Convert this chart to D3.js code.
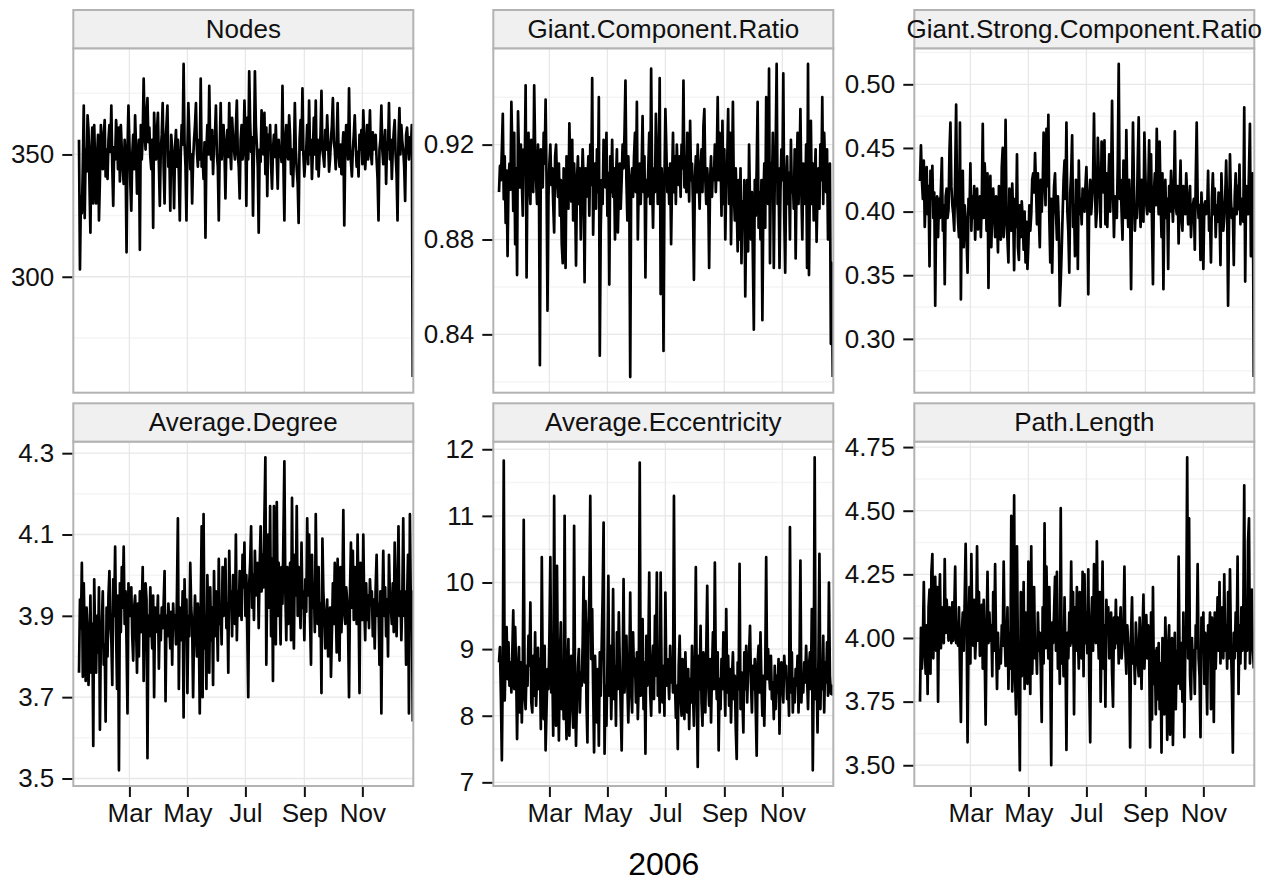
<!DOCTYPE html>
<html>
<head>
<meta charset="utf-8">
<script src="https://cdn.jsdelivr.net/npm/d3@7"></script>
<style>
  body { margin: 0; background: #fff; }
  text { font-family: "Liberation Sans", Arial, Helvetica, sans-serif; }
</style>
</head>
<body>
<svg id="chart" width="1285" height="884"></svg>
<script>
// daily series, 2006-01-07 .. 2006-12-24
const startDate = new Date(2006, 0, 7)

const nodes = [
  356,303,333,326,345,370,324,352,343,366, 360,338,318,352,361,330,362,345,330,349,
  358,323,340,362,350,344,358,364,341,352, 340,356,362,351,370,345,329,353,348,364,
  357,344,361,339,362,352,344,338,356,348, 310,352,370,355,338,327,350,358,344,366,
  353,334,347,356,311,362,348,357,381,361, 352,366,373,355,361,349,344,356,320,367,
  355,348,360,367,346,329,352,358,371,345, 330,356,362,370,345,351,327,358,352,349,
  328,353,360,345,356,342,323,350,362,354, 387,355,345,323,352,371,359,344,350,330,
  348,356,362,371,352,345,356,348,381,345, 349,340,355,316,352,362,350,378,353,348,
  360,342,355,358,370,350,345,323,352,371, 348,356,362,351,332,354,360,349,371,352,
  344,365,357,352,348,361,372,350,345,332, 356,362,348,352,372,358,329,365,348,384,
  363,351,357,325,352,384,362,354,345,318, 352,347,368,355,350,367,342,361,333,358,
  352,362,346,336,352,358,349,362,348,336, 356,349,352,347,378,345,323,356,362,350,
  348,366,358,342,352,337,348,371,352,344, 338,322,356,364,352,377,350,341,348,352,
  362,346,372,350,356,340,352,365,350,372, 344,356,341,350,358,376,352,349,345,360,
  352,366,355,343,348,356,362,373,355,352, 344,356,371,350,345,354,342,352,359,321,
  352,362,356,348,377,352,347,341,352,358, 366,354,345,351,341,358,352,360,346,368,
  356,344,352,362,348,355,368,350,346,359, 352,354,358,348,340,323,352,356,370,352,
  346,354,360,338,355,352,371,348,356,340, 352,359,364,350,342,323,356,369,350,362,
  355,352,345,331,358,361,354,348,357,352, 362,259
]

const giantComponent = [
  0.900,0.911,0.905,0.918,0.933,0.897,0.915,0.887,0.909,0.873, 0.905,0.912,0.901,0.938,0.918,0.892,0.925,0.878,0.910,0.865,
  0.934,0.915,0.902,0.920,0.905,0.890,0.918,0.908,0.945,0.864, 0.912,0.925,0.903,0.895,0.922,0.910,0.900,0.945,0.918,0.905,
  0.895,0.920,0.905,0.827,0.918,0.910,0.902,0.925,0.912,0.939, 0.905,0.850,0.898,0.912,0.920,0.903,0.910,0.895,0.883,0.915,
  0.920,0.905,0.898,0.912,0.890,0.905,0.878,0.870,0.910,0.900, 0.868,0.915,0.905,0.893,0.929,0.908,0.896,0.922,0.888,0.912,
  0.900,0.869,0.905,0.915,0.895,0.910,0.880,0.902,0.918,0.905, 0.862,0.910,0.898,0.905,0.915,0.890,0.920,0.903,0.948,0.882,
  0.905,0.912,0.893,0.918,0.900,0.940,0.831,0.885,0.905,0.895, 0.922,0.910,0.902,0.925,0.890,0.908,0.861,0.915,0.900,0.922,
  0.898,0.910,0.880,0.905,0.918,0.883,0.900,0.912,0.893,0.905, 0.920,0.910,0.925,0.947,0.905,0.888,0.915,0.900,0.822,0.905,
  0.910,0.898,0.915,0.925,0.900,0.938,0.880,0.905,0.912,0.895, 0.910,0.932,0.900,0.915,0.864,0.905,0.898,0.910,0.925,0.895,
  0.952,0.905,0.885,0.910,0.900,0.933,0.915,0.895,0.905,0.948, 0.857,0.910,0.900,0.833,0.905,0.935,0.918,0.900,0.910,0.895,
  0.912,0.878,0.905,0.925,0.900,0.915,0.895,0.920,0.908,0.903, 0.915,0.898,0.920,0.910,0.947,0.902,0.915,0.900,0.925,0.910,
  0.896,0.930,0.905,0.912,0.895,0.863,0.905,0.915,0.900,0.920, 0.905,0.893,0.910,0.918,0.900,0.928,0.935,0.905,0.895,0.910,
  0.902,0.868,0.905,0.915,0.898,0.910,0.905,0.920,0.900,0.912, 0.940,0.905,0.925,0.915,0.890,0.930,0.895,0.918,0.880,0.905,
  0.912,0.935,0.895,0.925,0.878,0.905,0.938,0.900,0.888,0.910, 0.895,0.875,0.905,0.880,0.910,0.870,0.896,0.885,0.905,0.856,
  0.890,0.905,0.875,0.920,0.895,0.880,0.900,0.872,0.842,0.905, 0.890,0.910,0.938,0.885,0.900,0.880,0.905,0.846,0.895,0.912,
  0.885,0.940,0.905,0.895,0.952,0.870,0.912,0.900,0.925,0.868, 0.905,0.920,0.954,0.895,0.910,0.868,0.900,0.918,0.905,0.950,
  0.890,0.866,0.905,0.915,0.895,0.908,0.880,0.922,0.900,0.905, 0.893,0.918,0.872,0.905,0.925,0.895,0.910,0.935,0.900,0.880,
  0.912,0.905,0.895,0.920,0.868,0.954,0.865,0.905,0.930,0.895, 0.912,0.888,0.905,0.918,0.879,0.900,0.910,0.893,0.920,0.905,
  0.940,0.895,0.925,0.910,0.900,0.918,0.880,0.905,0.912,0.836, 0.870,0.822
]

const giantStrong = [
  0.424,0.452,0.425,0.410,0.440,0.388,0.415,0.435,0.398,0.420, 0.357,0.432,0.410,0.436,0.395,0.415,0.326,0.402,0.412,0.380,
  0.410,0.395,0.418,0.442,0.385,0.405,0.343,0.412,0.418,0.395, 0.402,0.448,0.470,0.420,0.405,0.398,0.385,0.430,0.484,0.410,
  0.392,0.380,0.470,0.331,0.415,0.432,0.372,0.405,0.395,0.378, 0.352,0.410,0.398,0.438,0.385,0.412,0.395,0.420,0.378,0.402,
  0.418,0.386,0.395,0.412,0.380,0.410,0.469,0.395,0.438,0.420, 0.385,0.430,0.340,0.415,0.428,0.372,0.405,0.418,0.398,0.380,
  0.412,0.395,0.368,0.420,0.405,0.378,0.435,0.450,0.380,0.400, 0.472,0.395,0.378,0.360,0.418,0.405,0.385,0.422,0.398,0.354,
  0.410,0.388,0.445,0.372,0.362,0.405,0.380,0.408,0.395,0.370, 0.400,0.360,0.392,0.355,0.375,0.405,0.385,0.398,0.425,0.430,
  0.415,0.446,0.420,0.390,0.430,0.395,0.372,0.425,0.400,0.418, 0.462,0.440,0.405,0.465,0.420,0.476,0.395,0.360,0.410,0.352,
  0.395,0.420,0.430,0.400,0.378,0.412,0.390,0.326,0.345,0.370, 0.398,0.425,0.440,0.410,0.470,0.400,0.384,0.352,0.415,0.430,
  0.460,0.388,0.405,0.365,0.425,0.420,0.355,0.440,0.398,0.410, 0.390,0.418,0.405,0.400,0.420,0.435,0.402,0.335,0.410,0.425,
  0.398,0.410,0.425,0.477,0.420,0.388,0.400,0.458,0.430,0.412, 0.388,0.455,0.440,0.415,0.456,0.390,0.430,0.388,0.420,0.445,
  0.400,0.426,0.487,0.418,0.380,0.412,0.405,0.395,0.438,0.516, 0.410,0.425,0.400,0.378,0.440,0.415,0.395,0.464,0.410,0.388,
  0.425,0.400,0.339,0.410,0.470,0.420,0.385,0.405,0.395,0.440, 0.474,0.405,0.388,0.425,0.410,0.392,0.462,0.430,0.405,0.398,
  0.415,0.456,0.400,0.445,0.390,0.343,0.415,0.430,0.405,0.465, 0.420,0.398,0.455,0.410,0.380,0.430,0.339,0.405,0.425,0.395,
  0.410,0.355,0.420,0.400,0.432,0.410,0.392,0.415,0.463,0.405, 0.398,0.420,0.375,0.410,0.440,0.395,0.385,0.420,0.410,0.398,
  0.430,0.412,0.390,0.402,0.420,0.380,0.398,0.405,0.410,0.370, 0.425,0.470,0.410,0.395,0.405,0.362,0.415,0.390,0.355,0.405,
  0.408,0.398,0.400,0.432,0.385,0.395,0.360,0.410,0.430,0.398, 0.418,0.380,0.405,0.392,0.415,0.398,0.358,0.430,0.405,0.385,
  0.395,0.412,0.440,0.405,0.326,0.390,0.445,0.410,0.395,0.402, 0.358,0.412,0.430,0.398,0.420,0.402,0.437,0.390,0.410,0.404,
  0.392,0.482,0.345,0.420,0.405,0.398,0.432,0.469,0.365,0.405, 0.430,0.270
]

const avgDegree = [
  3.76,3.94,3.87,4.03,3.75,3.98,3.85,3.74,3.92,3.86, 3.73,3.82,3.95,3.76,3.88,3.58,3.99,3.84,3.76,3.90,
  3.81,3.97,3.62,3.85,3.88,3.96,3.78,3.83,3.64,3.92, 3.80,3.95,4.01,3.88,3.84,3.73,3.99,3.90,4.07,3.86,
  3.72,3.95,3.52,3.98,3.86,4.02,3.92,4.07,3.88,3.96, 3.83,3.66,3.98,3.93,3.90,3.97,3.85,3.79,3.92,3.95,
  3.88,3.76,3.93,3.80,3.96,3.86,3.92,4.02,3.74,3.90, 3.98,3.94,3.55,3.90,3.85,3.97,3.88,3.82,3.95,3.70,
  3.92,3.86,3.88,3.95,3.77,3.90,3.84,3.92,3.87,3.93, 4.01,3.69,3.90,3.85,3.93,3.88,3.82,3.91,3.78,3.93,
  3.87,3.90,3.83,3.95,4.14,3.72,3.92,3.88,3.84,3.96, 3.65,3.99,3.86,3.94,3.71,3.90,3.85,4.03,3.92,3.88,
  3.70,3.86,3.95,3.88,3.80,3.93,3.87,3.66,3.92,4.12, 3.70,4.15,3.82,3.90,3.72,4.00,3.88,3.76,3.97,3.84,
  3.92,3.73,4.01,3.85,3.96,3.90,3.79,4.04,3.88,3.92, 3.83,4.02,3.90,3.95,4.04,3.87,3.93,3.76,4.06,3.92,
  3.96,3.85,4.00,3.93,3.88,4.10,3.84,3.96,3.90,4.01, 3.92,3.89,4.05,3.97,4.08,3.90,4.00,3.86,3.70,3.98,
  4.03,4.12,3.92,4.00,3.89,4.06,3.95,3.98,4.03,3.87, 4.02,4.12,3.96,4.05,3.97,4.14,4.29,3.78,4.01,4.10,
  3.92,4.17,3.85,4.04,3.74,4.17,3.98,3.83,4.18,3.90, 4.03,3.95,3.83,4.02,3.93,4.10,4.28,3.96,3.84,4.02,
  3.88,3.96,4.03,3.84,4.19,3.92,3.82,4.05,3.95,4.17, 3.90,4.02,3.94,3.87,4.08,3.92,3.96,3.84,3.99,3.91,
  4.14,3.95,4.10,3.89,3.78,4.05,3.92,3.98,3.86,4.15, 3.95,3.88,4.02,3.85,3.93,3.71,4.09,3.96,3.90,3.82,
  3.88,3.94,3.80,3.85,3.92,3.75,3.86,3.98,3.88,4.03, 3.93,3.81,4.04,3.90,3.79,4.02,3.86,3.95,4.16,3.91,
  3.88,3.97,3.94,3.87,3.70,3.96,4.08,3.92,4.06,3.89, 4.02,3.95,3.88,4.10,3.94,3.71,4.03,3.97,3.89,4.10,
  3.92,3.84,3.98,3.89,3.95,3.87,3.99,3.93,3.96,3.85, 3.94,3.82,3.97,4.05,3.90,3.93,3.78,3.96,3.66,3.92,
  4.06,3.90,3.97,3.85,3.94,3.80,4.05,3.95,3.92,3.88, 3.98,3.86,4.08,3.93,3.85,3.97,4.12,3.90,3.96,3.84,
  3.94,4.14,3.90,3.96,3.78,3.93,4.05,3.66,4.15,3.92, 3.96,3.64
]

const avgEccentricity = [
  8.80,9.03,8.30,7.33,8.75,11.83,8.23,8.95,9.33,8.55, 9.10,8.45,8.80,8.35,8.95,9.58,8.40,9.33,8.70,7.65,
  8.60,9.03,8.05,8.80,7.90,8.65,10.94,8.30,8.10,8.75, 8.45,9.20,8.75,9.70,8.20,8.05,8.90,8.30,9.25,8.15,
  8.60,9.02,8.40,8.85,7.80,10.38,8.55,7.95,9.05,7.48, 8.10,8.70,8.40,9.20,10.38,8.35,8.80,7.70,11.30,8.55,
  7.85,10.25,8.50,7.63,8.85,9.40,8.10,8.65,7.95,11.00, 8.35,7.65,8.70,9.15,7.70,8.50,8.90,8.20,7.82,10.85,
  8.40,7.55,8.30,8.75,9.00,8.05,8.65,8.45,9.10,10.08, 8.50,9.72,8.20,7.60,9.35,9.80,11.30,8.85,9.60,8.40,
  7.45,8.90,8.35,7.90,8.70,7.55,8.95,8.30,9.05,9.80, 10.90,7.43,8.45,7.85,8.75,10.10,8.30,9.05,7.95,8.60,
  9.90,8.25,8.75,7.85,9.25,8.40,9.55,8.80,8.10,7.48, 8.60,10.05,8.35,8.90,9.20,8.45,7.90,8.70,9.85,8.40,
  8.05,9.25,8.60,8.85,8.20,8.95,7.95,8.50,11.80,8.30, 8.65,9.45,8.10,8.80,7.43,9.20,8.45,8.90,10.15,8.35,
  8.00,8.75,9.05,8.25,9.50,8.60,10.15,8.30,8.85,8.05, 10.15,8.60,8.20,8.75,8.00,9.85,8.45,8.85,8.60,8.25,
  9.05,8.50,8.80,8.35,11.30,8.55,7.97,8.45,7.50,8.75, 9.20,8.30,8.00,8.85,8.50,7.95,8.95,8.40,8.05,8.70,
  7.80,8.55,8.20,9.05,8.35,7.85,8.75,10.23,8.45,7.23, 8.90,8.40,9.35,8.20,7.85,8.95,8.55,8.05,9.00,9.95,
  8.50,8.15,8.85,7.90,8.65,9.25,8.40,10.30,8.75,8.25, 8.95,7.48,8.55,8.10,8.85,8.40,9.25,8.60,8.00,9.60,
  8.35,8.90,8.15,8.70,7.90,8.55,8.95,8.25,8.60,7.80, 7.35,8.80,8.40,10.28,8.10,8.65,8.25,7.75,8.95,8.40,
  9.05,8.20,8.70,8.95,9.35,8.50,8.05,8.75,8.40,8.85, 8.10,7.40,8.80,9.05,8.35,9.25,8.50,8.00,8.60,7.85,
  8.70,10.38,8.55,9.00,8.65,8.40,8.90,8.25,8.50,7.95, 8.75,8.10,8.60,8.35,8.85,7.73,8.60,8.80,8.45,8.20,
  8.90,8.60,8.75,8.25,8.55,8.00,10.83,8.35,8.95,8.05, 8.55,8.20,8.70,8.45,8.90,8.05,8.75,10.33,8.20,8.60,
  8.35,8.80,8.50,9.05,8.60,8.10,8.75,8.95,8.40,9.60, 7.18,8.65,11.88,8.25,8.70,7.75,8.90,10.43,8.10,8.80,
  8.40,9.20,8.05,8.80,8.50,9.10,8.30,10.00,8.60,8.33, 8.45,8.30
]

const pathLength = [
  3.75,4.04,3.88,3.98,4.22,3.95,3.86,4.05,3.78,4.12, 4.19,3.86,4.26,4.33,3.92,4.10,4.24,3.95,4.20,3.75,
  4.10,4.25,3.96,4.12,4.05,3.98,4.31,4.02,4.15,4.08, 3.99,4.12,4.06,3.98,4.14,3.99,4.10,4.28,3.98,4.06,
  3.97,4.12,3.88,3.67,4.02,4.10,3.95,4.15,4.37,4.08, 3.59,3.98,4.20,3.90,4.33,4.05,3.97,4.15,3.92,4.02,
  4.36,3.99,4.18,3.93,4.05,4.13,3.88,4.15,3.95,3.66, 4.02,4.26,3.98,4.10,3.99,4.05,3.85,4.18,3.95,4.29,
  3.98,3.80,4.02,3.88,3.95,3.90,4.05,3.97,4.30,4.02, 3.89,3.96,4.12,3.80,4.02,3.88,4.48,3.79,3.95,4.56,
  3.85,3.70,4.36,3.92,3.76,3.48,4.18,3.85,3.95,4.22, 3.80,4.10,3.90,3.82,4.30,3.95,3.78,4.36,3.86,4.02,
  4.20,3.92,3.98,3.86,4.10,3.95,4.02,3.88,3.67,4.12, 3.90,4.45,3.96,4.28,4.05,3.92,4.20,3.88,3.50,4.06,
  3.98,4.10,4.24,3.95,4.26,3.88,4.05,3.82,4.51,3.90, 4.02,3.85,4.16,3.95,3.56,4.02,3.92,4.10,3.97,4.30,
  3.98,4.18,3.70,4.12,3.95,4.20,4.02,3.88,4.18,4.05, 3.92,4.26,3.85,4.25,3.98,4.10,3.94,4.27,3.82,3.59,
  4.06,4.16,3.95,4.29,4.10,3.98,4.38,4.05,3.92,4.18, 3.75,4.02,4.30,3.88,4.05,3.73,4.15,4.05,4.12,3.92,
  3.98,4.10,3.86,3.73,4.08,3.96,4.15,3.98,4.08,3.90, 4.02,4.12,3.92,3.98,4.05,4.28,3.95,3.86,4.05,3.98,
  3.92,3.57,4.02,4.16,3.90,3.96,3.82,4.06,3.98,3.90, 3.85,4.08,3.95,3.80,4.02,4.17,3.88,3.98,4.09,3.92,
  4.05,3.95,3.57,4.10,3.68,4.20,3.82,3.95,3.70,3.96, 3.76,3.98,3.72,3.90,3.55,4.00,3.85,3.70,4.08,3.92,
  3.60,3.95,4.05,3.62,3.90,4.00,3.58,3.88,4.02,3.72, 3.95,3.82,4.32,3.92,3.80,3.98,3.75,4.10,3.61,3.95,
  4.05,4.71,3.92,4.47,3.85,3.76,4.00,3.90,3.95,3.78, 4.05,3.96,4.29,3.92,3.85,3.61,4.08,3.95,4.10,3.82,
  4.02,3.90,3.70,4.05,3.95,4.10,3.72,4.08,3.98,3.67, 4.10,3.88,4.02,4.16,3.95,4.22,3.90,4.05,4.12,3.92,
  4.25,3.95,4.05,3.88,4.18,3.92,4.27,3.98,3.82,3.55, 4.02,3.92,4.10,3.95,4.32,3.78,4.05,3.90,4.12,3.95,
  4.08,4.60,3.88,4.10,3.95,4.38,4.47,3.90,4.02,4.19, 3.98,3.88
]

const panelTitles = ["Nodes", "Giant.Component.Ratio", "Giant.Strong.Component.Ratio",
                     "Average.Degree", "Average.Eccentricity", "Path.Length"]
const panelSeries = [nodes, giantComponent, giantStrong, avgDegree, avgEccentricity, pathLength]
const majorTicks = [
  [300, 350],
  [0.84, 0.88, 0.92],
  [0.30, 0.35, 0.40, 0.45, 0.50],
  [3.5, 3.7, 3.9, 4.1, 4.3],
  [7, 8, 9, 10, 11, 12],
  [3.50, 3.75, 4.00, 4.25, 4.50, 4.75]
]
const minorTicks = [
  [275, 325, 375],
  [0.82, 0.86, 0.90, 0.94],
  [0.275, 0.325, 0.375, 0.425, 0.475, 0.525],
  [3.6, 3.8, 4.0, 4.2],
  [7.5, 8.5, 9.5, 10.5, 11.5],
  [3.625, 3.875, 4.125, 4.375, 4.625]
]
const tickFormats = ["d", ".2f", ".2f", ".1f", "d", ".2f"]
const monthTicks = ["2006-03-01", "2006-05-01", "2006-07-01", "2006-09-01", "2006-11-01"]
const xTitle = "2006"

// layout
const colX = [73.3, 493.3, 914.3], rowY = [10, 403.3]
const pw = 340, stripH = 38.3, ph = 344.4

const svg = d3.select('#chart')

const x = d3.scaleTime()
    .domain([new Date(2006, 0, 1), new Date(2006, 11, 24, 14)])
    .range([0, pw])

const parseDay = d3.timeParse("%Y-%m-%d")
const monthDates = monthTicks.map(parseDay)

svg.append('defs').append('clipPath').attr('id', 'clip')
    .append('rect').attr('width', pw).attr('height', ph)

panelTitles.forEach((title, k) => {
  const col = k % 3, row = Math.floor(k / 3)
  const vals = panelSeries[k]
  const data = vals.map((v, i) => ({date: d3.timeDay.offset(startDate, i), v}))

  // ggplot-style 5% expansion
  const [lo, hi] = d3.extent(vals)
  const pad = (hi - lo) * 0.05
  const y = d3.scaleLinear().domain([lo - pad, hi + pad]).range([ph, 0])

  const g = svg.append('g')
      .attr('transform', `translate(${colX[col]},${rowY[row] + stripH})`)

  // strip
  const strip = svg.append('g')
      .attr('transform', `translate(${colX[col]},${rowY[row]})`)
  strip.append('rect')
      .attr('width', pw).attr('height', stripH)
      .attr('fill', '#f0f0f0').attr('stroke', '#b3b3b3').attr('stroke-width', 2)
  strip.append('text')
      .attr('x', pw / 2).attr('y', stripH / 2 + 9)
      .attr('text-anchor', 'middle')
      .attr('font-size', 26)
      .attr('fill', '#111')
      .text(title)

  // grid
  g.selectAll('.minor').data(minorTicks[k]).join('line')
      .attr('x1', 0).attr('x2', pw)
      .attr('y1', d => y(d)).attr('y2', d => y(d))
      .attr('stroke', '#f5f5f5').attr('stroke-width', 1.5)
  g.selectAll('.majorY').data(majorTicks[k]).join('line')
      .attr('x1', 0).attr('x2', pw)
      .attr('y1', d => y(d)).attr('y2', d => y(d))
      .attr('stroke', '#e8e8e8').attr('stroke-width', 1.3)
  g.selectAll('.majorX').data(monthDates).join('line')
      .attr('x1', d => x(d)).attr('x2', d => x(d))
      .attr('y1', 0).attr('y2', ph)
      .attr('stroke', '#e8e8e8').attr('stroke-width', 1.3)

  // series
  const line = d3.line().x(d => x(d.date)).y(d => y(d.v))
  g.append('path')
      .datum(data)
      .attr('clip-path', 'url(#clip)')
      .attr('d', line)
      .attr('fill', 'none')
      .attr('stroke', '#000')
      .attr('stroke-width', 2.7)
      .attr('stroke-linejoin', 'round')

  // border
  g.append('rect')
      .attr('width', pw).attr('height', ph)
      .attr('fill', 'none').attr('stroke', '#b3b3b3').attr('stroke-width', 2)

  // y axis
  const yAxis = g.append('g')
      .call(d3.axisLeft(y).tickValues(majorTicks[k]).tickFormat(d3.format(tickFormats[k]))
        .tickSize(10).tickPadding(9))
  yAxis.select('.domain').remove()
  yAxis.selectAll('line').attr('stroke', '#111').attr('stroke-width', 2).attr('transform', 'translate(-1,0)')
  yAxis.selectAll('text').attr('font-size', 26).attr('fill', '#111')
      .attr('font-family', '"Liberation Sans", Arial, sans-serif')

  // x axis on bottom row
  if (row === 1) {
    const xAxis = g.append('g').attr('transform', `translate(0,${ph})`)
        .call(d3.axisBottom(x).tickValues(monthDates).tickFormat(d3.timeFormat('%b'))
          .tickSize(10).tickPadding(8))
    xAxis.select('.domain').remove()
    xAxis.selectAll('line').attr('stroke', '#111').attr('stroke-width', 2).attr('transform', 'translate(0,1)')
    xAxis.selectAll('text').attr('font-size', 26).attr('fill', '#111')
        .attr('font-family', '"Liberation Sans", Arial, sans-serif')
  }
})

svg.append('text')
    .attr('x', (colX[0] + colX[2] + pw) / 2)
    .attr('y', 875)
    .attr('text-anchor', 'middle')
    .attr('font-size', 32)
    .attr('fill', '#000')
    .text(xTitle)
</script>
</body>
</html>
